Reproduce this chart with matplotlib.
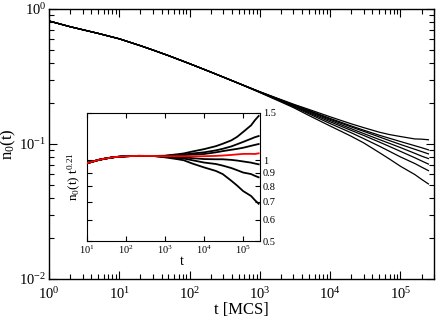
import matplotlib
matplotlib.use('Agg')
import matplotlib.pyplot as plt
import numpy as np
from matplotlib.ticker import LogLocator, FixedLocator, FixedFormatter, NullLocator, NullFormatter

plt.rcParams['font.family'] = ['Liberation Serif', 'DejaVu Serif']
plt.rcParams['mathtext.fontset'] = 'custom'
plt.rcParams['mathtext.rm'] = 'Liberation Serif'
plt.rcParams['mathtext.it'] = 'Liberation Serif:italic'

# time points (MCS)
t = np.array([1, 2, 3, 5, 10, 20, 30, 50, 100, 200, 300, 500,
              1e3, 2e3, 3e3, 5e3, 1e4, 2e4, 3e4, 5e4, 7e4, 1e5, 1.6e5, 2e5, 2.5e5])

# common early-time part of n0(t), same for every run (t < 1e3)
early = [0.815, 0.739, 0.7027, 0.6597, 0.6012, 0.5347, 0.4969, 0.4516,
         0.3935, 0.3412, 0.3133, 0.2812]

# late-time part for each run (t >= 1e3)
late_1 = [0.2438, 0.2132, 0.1973, 0.1802, 0.1590, 0.1410, 0.1322, 0.1223, 0.1174, 0.1136, 0.1090, 0.1086, 0.1075]
late_2 = [0.2433, 0.2118, 0.1954, 0.1772, 0.1547, 0.1360, 0.1266, 0.1161, 0.1102, 0.1043, 0.0971, 0.0939, 0.0905]
late_3 = [0.2431, 0.2112, 0.1945, 0.1756, 0.1525, 0.1337, 0.1241, 0.1128, 0.1059, 0.0992, 0.0914, 0.0879, 0.0845]
late_4 = [0.2426, 0.2098, 0.1926, 0.1730, 0.1496, 0.1297, 0.1195, 0.1079, 0.1010, 0.0941, 0.0853, 0.0813, 0.0780]
late_5 = [0.2422, 0.2084, 0.1908, 0.1702, 0.1460, 0.1260, 0.1157, 0.1034, 0.0958, 0.0882, 0.0791, 0.0749, 0.0710]
late_6 = [0.2415, 0.2069, 0.1889, 0.1672, 0.1417, 0.1210, 0.1096, 0.0964, 0.0882, 0.0802, 0.0717, 0.0674, 0.0635]
late_7 = [0.2403, 0.2047, 0.1861, 0.1625, 0.1359, 0.1140, 0.1019, 0.0864, 0.0773, 0.0684, 0.0594, 0.0547, 0.0506]

runs = [late_1, late_2, late_3, late_4, late_5, late_6, late_7]
red_run = 3
expo = 0.21

fig = plt.figure(figsize=(4.36, 3.19), dpi=100)
ax = fig.add_axes([0.1124, 0.1254, 0.883, 0.8464])

for late in runs:
    n0 = np.array(early + late)
    ax.plot(t, n0, color='black', lw=0.9)

ax.set_xscale('log')
ax.set_yscale('log')
ax.set_xlim(1, 3e5)
ax.set_ylim(1e-2, 1)
ax.xaxis.set_major_locator(LogLocator(base=10, numticks=10))
ax.xaxis.set_minor_locator(LogLocator(base=10, subs=np.arange(2, 10), numticks=20))
ax.yaxis.set_minor_locator(LogLocator(base=10, subs=np.arange(2, 10), numticks=20))
ax.xaxis.set_minor_formatter(NullFormatter())
ax.yaxis.set_minor_formatter(NullFormatter())
ax.tick_params(which='both', direction='in', top=True, right=True, labelsize=10.5)
ax.tick_params(which='major', length=6, width=0.8)
ax.tick_params(which='minor', length=3.5, width=0.8)
ax.tick_params(axis='x', pad=5)
ax.tick_params(axis='y', pad=2)
for s in ax.spines.values():
    s.set_linewidth(1.0)
ax.set_xlabel('t [MCS]', fontsize=12, labelpad=0)
ax.set_ylabel('n$_0$(t)', fontsize=12)
ax.yaxis.set_label_coords(-0.08, 0.5)

# inset: n0(t) t^0.21
ins = fig.add_axes([0.1995, 0.2445, 0.3968, 0.4013])
ins.set_facecolor('white')
for i, late in enumerate(runs):
    n0 = np.array(early + late)
    sel = t >= 10
    col = 'red' if i == red_run else 'black'
    ins.plot(t[sel], n0[sel] * t[sel] ** expo, color=col, lw=1.3, zorder=3 if i == red_run else 2)

ins.set_xscale('log')
ins.set_yscale('log')
ins.set_xlim(10, 2.7e5)
ins.set_ylim(0.5, 1.5)
ins.xaxis.set_major_locator(LogLocator(base=10, numticks=10))
ins.xaxis.set_minor_locator(NullLocator())
yt = [0.5, 0.6, 0.7, 0.8, 0.9, 1.0, 1.5]
ins.yaxis.set_major_locator(FixedLocator(yt))
ins.yaxis.set_major_formatter(FixedFormatter(['0.5', '0.6', '0.7', '0.8', '0.9', '1', '1.5']))
ins.yaxis.set_minor_locator(NullLocator())
ins.yaxis.tick_right()
ins.tick_params(which='both', direction='in', top=True, left=True, right=True,
                labelleft=False, labelright=True, labelsize=7.5, length=3.5, width=0.8, pad=2)
ins.yaxis.set_label_position('left')
ins.set_ylabel('n$_0$(t) t$^{0.21}$', fontsize=9.5, labelpad=3)
ins.set_xlabel('t', fontsize=10)
ins.xaxis.set_label_coords(0.55, -0.11)

fig.savefig('out.png', dpi=100)
